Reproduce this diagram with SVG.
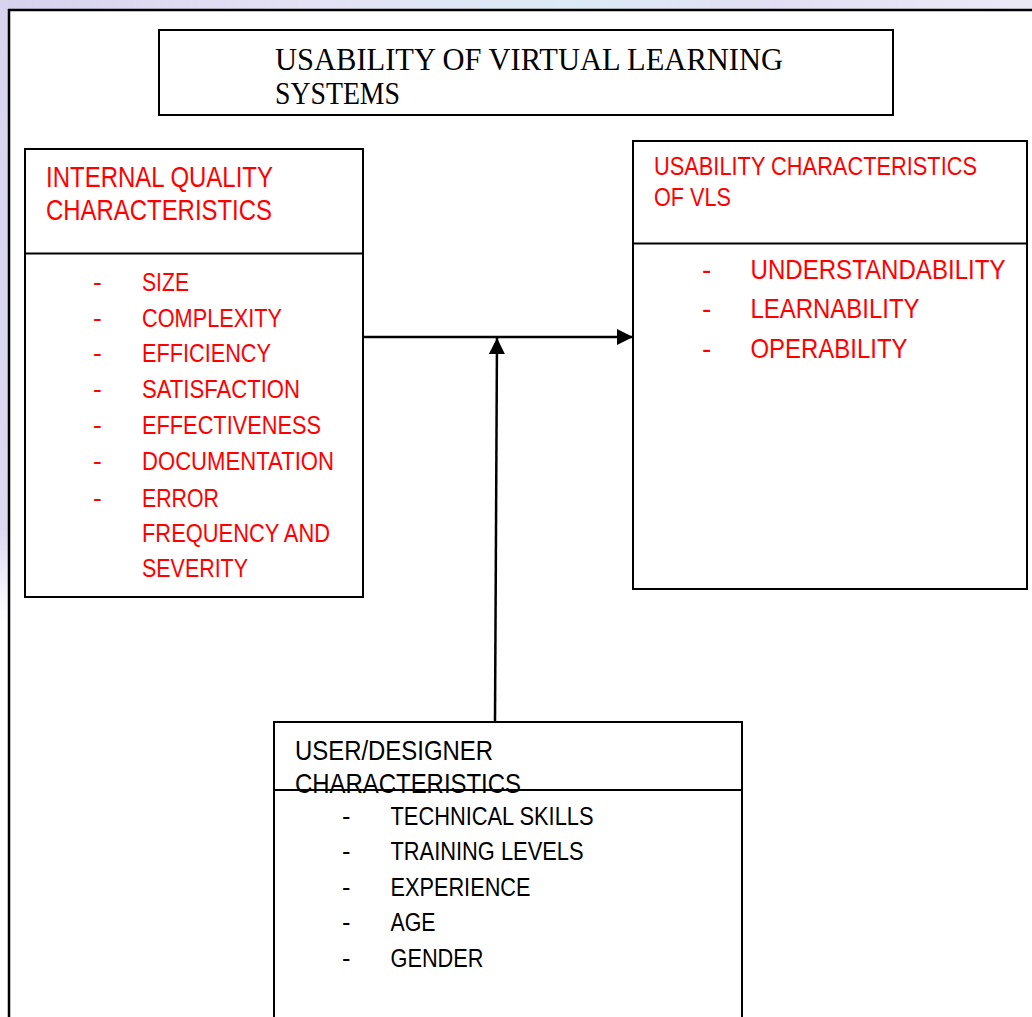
<svg xmlns="http://www.w3.org/2000/svg" width="1032" height="1017" viewBox="0 0 1032 1017">
<defs>
<style>
.box{fill:#fff;stroke:#000;stroke-width:2}
.div{stroke:#000;stroke-width:2}
.conn{stroke:#000;stroke-width:2.5;fill:none}
.sans{font-family:"Liberation Sans",Arial,sans-serif}
.red{fill:#ff0000}
.blk{fill:#000}
.serif{font-family:"Liberation Serif","Times New Roman",serif;fill:#000}
</style>
<linearGradient id="wm" x1="0" y1="0" x2="1" y2="0">
<stop offset="0" stop-color="#d6d2ee"/>
<stop offset="0.3" stop-color="#e4e1f5"/>
<stop offset="0.55" stop-color="#dcebf6"/>
<stop offset="0.75" stop-color="#e2dff3"/>
<stop offset="1" stop-color="#ece9f7"/>
</linearGradient>
<linearGradient id="wm2" x1="0" y1="0" x2="0" y2="1">
<stop offset="0" stop-color="#d8d4ef"/>
<stop offset="0.85" stop-color="#dcd9f1"/>
<stop offset="1" stop-color="#ffffff"/>
</linearGradient>
<marker id="ah" viewBox="0 0 16 16" refX="16" refY="8" markerWidth="16" markerHeight="16" markerUnits="userSpaceOnUse" orient="auto">
<path d="M0,0 L16,8 L0,16 Z" fill="#000"/>
</marker>
</defs>
<rect width="1032" height="1017" fill="#fff"/>
<g id="watermark">
<rect x="0" y="0" width="1032" height="9" fill="url(#wm)"/>
<rect x="0" y="0" width="8" height="620" fill="url(#wm2)"/>
</g>
<g id="frame">
<path d="M9,1017 V10 H1032" fill="none" stroke="#000" stroke-width="2.5"/>
</g>
<g id="title">
<rect class="box" x="159" y="30" width="734" height="85"/>
<text class="serif" font-size="32" x="275" y="70" textLength="508" lengthAdjust="spacingAndGlyphs">USABILITY OF VIRTUAL LEARNING</text>
<text class="serif" font-size="32" x="275" y="103.5" textLength="125" lengthAdjust="spacingAndGlyphs">SYSTEMS</text>
</g>
<g id="internal-quality">
<rect class="box" x="25" y="149" width="338" height="448"/>
<line class="div" x1="25" y1="253.5" x2="363" y2="253.5"/>
<g class="sans red" font-size="29">
<text x="46" y="187" textLength="227" lengthAdjust="spacingAndGlyphs">INTERNAL QUALITY</text>
<text x="46" y="220" textLength="226" lengthAdjust="spacingAndGlyphs">CHARACTERISTICS</text>
</g>
<g class="sans red" font-size="26.5">
<text x="93" y="291">-</text><text x="142" y="291" textLength="47" lengthAdjust="spacingAndGlyphs">SIZE</text>
<text x="93" y="326.5">-</text><text x="142" y="326.5" textLength="140" lengthAdjust="spacingAndGlyphs">COMPLEXITY</text>
<text x="93" y="362">-</text><text x="142" y="362" textLength="129" lengthAdjust="spacingAndGlyphs">EFFICIENCY</text>
<text x="93" y="398">-</text><text x="142" y="398" textLength="158" lengthAdjust="spacingAndGlyphs">SATISFACTION</text>
<text x="93" y="433.5">-</text><text x="142" y="433.5" textLength="179" lengthAdjust="spacingAndGlyphs">EFFECTIVENESS</text>
<text x="93" y="469.5">-</text><text x="142" y="469.5" textLength="192" lengthAdjust="spacingAndGlyphs">DOCUMENTATION</text>
<text x="93" y="506.5">-</text><text x="142" y="506.5" textLength="77" lengthAdjust="spacingAndGlyphs">ERROR</text>
<text x="142" y="541.5" textLength="188" lengthAdjust="spacingAndGlyphs">FREQUENCY AND</text>
<text x="142" y="576.5" textLength="106" lengthAdjust="spacingAndGlyphs">SEVERITY</text>
</g>
</g>
<g id="usability-characteristics">
<rect class="box" x="633" y="141" width="394" height="448"/>
<line class="div" x1="633" y1="243.5" x2="1027" y2="243.5"/>
<g class="sans red" font-size="25.5">
<text x="654" y="175" textLength="323" lengthAdjust="spacingAndGlyphs">USABILITY CHARACTERISTICS</text>
<text x="654" y="206" textLength="77" lengthAdjust="spacingAndGlyphs">OF VLS</text>
</g>
<g class="sans red" font-size="28">
<text x="702" y="278.5">-</text><text x="750.5" y="278.5" textLength="255" lengthAdjust="spacingAndGlyphs">UNDERSTANDABILITY</text>
<text x="702" y="317.5">-</text><text x="750.5" y="317.5" textLength="169" lengthAdjust="spacingAndGlyphs">LEARNABILITY</text>
<text x="702" y="357.5">-</text><text x="750.5" y="357.5" textLength="157" lengthAdjust="spacingAndGlyphs">OPERABILITY</text>
</g>
</g>
<g id="user-designer">
<rect class="box" x="274" y="722" width="468" height="310"/>
<line class="div" x1="274" y1="790" x2="742" y2="790"/>
<g class="sans blk" font-size="28">
<text x="295" y="760" textLength="198" lengthAdjust="spacingAndGlyphs">USER/DESIGNER</text>
<text x="295" y="793" textLength="226" lengthAdjust="spacingAndGlyphs">CHARACTERISTICS</text>
</g>
<g class="sans blk" font-size="25.5">
<text x="342" y="824.5">-</text><text x="390.5" y="824.5" textLength="203" lengthAdjust="spacingAndGlyphs">TECHNICAL SKILLS</text>
<text x="342" y="860">-</text><text x="390.5" y="860" textLength="193" lengthAdjust="spacingAndGlyphs">TRAINING LEVELS</text>
<text x="342" y="895.5">-</text><text x="390.5" y="895.5" textLength="140" lengthAdjust="spacingAndGlyphs">EXPERIENCE</text>
<text x="342" y="931">-</text><text x="390.5" y="931" textLength="45" lengthAdjust="spacingAndGlyphs">AGE</text>
<text x="342" y="966.5">-</text><text x="390.5" y="966.5" textLength="93" lengthAdjust="spacingAndGlyphs">GENDER</text>
</g>
</g>
<g id="connectors">
<line class="conn" x1="363" y1="337" x2="633" y2="337" marker-end="url(#ah)"/>
<line class="conn" x1="495" y1="722" x2="497" y2="338" marker-end="url(#ah)"/>
</g>
</svg>
